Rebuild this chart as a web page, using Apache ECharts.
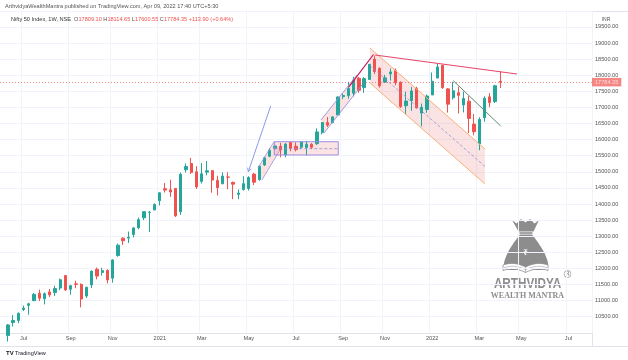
<!DOCTYPE html>
<html><head><meta charset="utf-8">
<script src="https://cdn.jsdelivr.net/npm/echarts@6/dist/echarts.min.js"></script>
<style>html,body{margin:0;padding:0;background:#fff}#c{width:628px;height:360px}</style>
</head><body><div id="c"></div>
<script>
// ---- data ----
const startMonday = [2020, 5, 8];   // first (empty) weekly slot: 2020-06-08
const weekSlots = 113;
const firstBarSlot = 1;             // first candle: week of 2020-06-15
const opens  = [9919,10319,10383,10723,10852,10999,11225,11057,11270,11248,11390,11777,11355,11521,11503,11140,11487,11974,11874,11937,11697,12399,12940,12940,13055,13264,13571,13741,13815,14104,14474,14439,14483,13759,15064,15257,14999,14702,14990,15035,14736,14628,14837,14669,14300,14449,14481,14928,14756,15211,15484,15725,15791,15525,15915,15793,15766,15754,15855,15874,16215,16530,16525,16765,17334,17364,17443,17906,17615,17867,18500,18215,17784,18040,18140,17780,17052,17209,17594,16824,16937,17387,17913,18309,17575,17301,17456,17076,17192,16481,15867,16680,17329,17182,17809.10];
const highs  = [10272,10553,10631,10847,10933,11240,11341,11256,11361,11460,11686,11794,11493,11618,11535,11428,11939,12025,12019,11974,12280,12770,12963,13145,13280,13579,13773,13777,14024,14367,14653,14754,14491,14978,15257,15431,15176,15274,15336,15052,14878,14984,14984,14697,14450,14864,14863,14967,15190,15469,15733,15835,15901,15893,15915,15915,15952,15962,15890,16350,16543,16701,16722,17340,17436,17792,17947,17943,17941,18350,18604,18242,18012,18210,18210,17806,17489,17639,17640,17118,17400,18082,18350,18321,17599,17794,17639,17490,17351,16800,16694,17344,17443,17703,18114.65];
const lows   = [9728,10194,10299,10676,10562,10991,10985,10882,11111,11145,11326,11303,11185,11383,10790,11081,11387,11661,11775,11535,11557,12362,12730,12790,12962,13214,13500,13131,13810,13954,14357,14222,13597,13662,14977,14935,14467,14635,14890,14350,14264,14615,14459,14151,14151,14416,14417,14591,14725,15181,15451,15678,15451,15450,15636,15632,15707,15513,15705,15834,16162,16395,16510,16764,17255,17269,17338,17452,17452,17864,18035,17613,17761,17836,17688,16985,16782,16891,16966,16410,16833,17383,17906,17576,16837,17244,16810,16843,16203,16133,15671,16555,17006,17135,17600.55];
const closes = [10244,10383,10607,10768,10901,11194,11073,11214,11178,11372,11647,11333,11464,11504,11050,11416,11914,11762,11930,11642,12263,12720,12859,12969,13258,13513,13760,13749,13982,14347,14433,14372,13634,14924,15163,14982,14529,14938,15031,14744,14507,14867,14834,14617,14341,14631,14823,14677,15175,15436,15670,15799,15683,15860,15722,15690,15924,15856,15763,16238,16529,16450,16705,17324,17369,17585,17853,17532,17895,18338,18114,17671,17917,18102,17765,17026,17196,17511,16985,17003,17354,17812,18255,17617,17101,17516,17374,17276,16658,16245,16630,17287,17153,17670,17784.35];
const tickDates  = ['2020-07-06','2020-09-07','2020-11-02','2021-01-04','2021-03-01','2021-05-03','2021-07-05','2021-09-06','2021-11-01','2022-01-03','2022-03-07','2022-05-02','2022-07-04'];
const tickLabels = ['Jul','Sep','Nov','2021','Mar','May','Jul','Sep','Nov','2022','Mar','May','Jul'];
const lastPrice = 17784.35;
const changeText = '+113.90 (+0.64%)';

// drawings: [weekSlot, price]
const arrowLine    = [[51.17,17044],[46.9,15004]];
const boxCorners   = [[51.86,15935],[64.07,15522]];
const boxMid       = [[51.86,15718],[64.07,15718]];
const rise1Upper   = [[48.75,15124],[51.8,15935]];
const rise1Lower   = [[49.5,14747],[52.94,15678]];
const rise2Upper   = [[60.77,16609],[67.64,18006]];
const rise2Lower   = [[61.34,16206],[68.6,17696]];
const peakLine     = [[66.1,17634],[70.79,18643]];
const resistLine   = [[71.08,18627],[98.18,18037]];
const fallUpper    = [[70.12,18842],[92.07,15709]];
const fallLower    = [[70.12,17758],[92.07,14622]];
const fallMid      = [[70.12,18300],[92.07,15166]];
const flagLine     = [[86.02,17830],[95.07,16423]];

// ---- build ----
const base = Date.UTC(startMonday[0], startMonday[1], startMonday[2]);
const cats = [];
for (let k = 0; k < weekSlots; k++) cats.push(new Date(base + k*7*864e5).toISOString().slice(0,10));
const candle = cats.map((d,k) => {
  const i = k - firstBarSlot;
  return (i >= 0 && i < opens.length) ? [opens[i], closes[i], lows[i], highs[i]] : '-';
});
const tickMap = {};
tickDates.forEach((d,i) => tickMap[d] = tickLabels[i]);
const isTick = (idx, val) => tickMap[val] !== undefined;

const FILL = 'rgba(239,83,80,0.16)';
const PURPLE = '#9c8fe0';
const fills = [
  {pts: [boxCorners[0], [boxCorners[1][0], boxCorners[0][1]], boxCorners[1], [boxCorners[0][0], boxCorners[1][1]]], fill: FILL},
  {pts: [rise1Upper[0], rise1Upper[1], rise1Lower[1], rise1Lower[0]], fill: FILL},
  {pts: [rise2Upper[0], rise2Upper[1], rise2Lower[1], rise2Lower[0]], fill: FILL},
  {pts: [fallUpper[0], fallUpper[1], fallLower[1], fallLower[0]], fill: FILL}
];
const lines = [
  {pts: [boxCorners[0], [boxCorners[1][0], boxCorners[0][1]], boxCorners[1], [boxCorners[0][0], boxCorners[1][1]], boxCorners[0]], stroke: PURPLE, w: 1},
  {pts: boxMid, stroke: '#8a8fd8', w: 0.8, dash: [3,2]},
  {pts: rise1Upper, stroke: PURPLE, w: 0.8},
  {pts: rise1Lower, stroke: PURPLE, w: 0.8},
  {pts: rise2Upper, stroke: PURPLE, w: 0.9},
  {pts: rise2Lower, stroke: PURPLE, w: 0.9},
  {pts: fallUpper, stroke: '#f7b27a', w: 1},
  {pts: fallLower, stroke: '#f7b27a', w: 1},
  {pts: fallMid, stroke: '#8a8fd8', w: 0.8, dash: [3,2]},
  {pts: peakLine, stroke: '#c2185b', w: 1.2},
  {pts: resistLine, stroke: '#e8466a', w: 1.2},
  {pts: flagLine, stroke: '#5e8a73', w: 1},
  {pts: arrowLine, stroke: '#8b9bf0', w: 1, arrow: true}
];

function shapeSeries(list, z, isFill) {
  return {
    type: 'custom', xAxisIndex: 1, yAxisIndex: 0, z: z, silent: true, clip: true,
    data: list.map((s,i) => [s.pts[0][0], s.pts[0][1], i]),
    encode: {x: 0, y: 1},
    renderItem: function (params, api) {
      const s = list[params.dataIndex];
      const p = s.pts.map(q => api.coord(q));
      if (isFill) return {type: 'polygon', shape: {points: p}, style: {fill: s.fill}};
      const children = [{type: 'polyline', shape: {points: p}, style: {stroke: s.stroke, lineWidth: s.w, lineDash: s.dash || null, fill: null}}];
      if (s.arrow) {
        const a = p[p.length-2], b = p[p.length-1];
        const ang = Math.atan2(b[1]-a[1], b[0]-a[0]);
        const L = 4;
        children.push({type: 'polyline', shape: {points: [
          [b[0]-L*Math.cos(ang-0.5), b[1]-L*Math.sin(ang-0.5)], b,
          [b[0]-L*Math.cos(ang+0.5), b[1]-L*Math.sin(ang+0.5)]]},
          style: {stroke: s.stroke, lineWidth: s.w, fill: null}});
      }
      return {type: 'group', children: children};
    }
  };
}

// logo geometry helpers (decorative, pixel space)
function cubic(p0,p1,p2,p3,n){const r=[];for(let j=1;j<=n;j++){const t=j/n,u=1-t;r.push([u*u*u*p0[0]+3*u*u*t*p1[0]+3*u*t*t*p2[0]+t*t*t*p3[0],u*u*u*p0[1]+3*u*u*t*p1[1]+3*u*t*t*p2[1]+t*t*t*p3[1]]);}return r;}
function quad(p0,p1,p2,n){const r=[];for(let j=1;j<=n;j++){const t=j/n,u=1-t;r.push([u*u*p0[0]+2*u*t*p1[0]+t*t*p2[0],u*u*p0[1]+2*u*t*p1[1]+t*t*p2[1]]);}return r;}
const bagBody = [[20,18.5],[32,18.5]]
  .concat(cubic([32,18.5],[38,26],[46,37],[48,47],10))
  .concat(cubic([48,47],[49,52],[46.5,54],[42,54],5))
  .concat([[10,54]])
  .concat(cubic([10,54],[5.5,54],[3,52],[4,47],5))
  .concat(cubic([4,47],[6,37],[14,26],[20,18.5],10));
const bookShape = [[3,49]].concat(quad([3,49],[14,45],[25.5,51],8)).concat(quad([25.5,51],[37,45],[48,49],8))
  .concat([[48,54.5]]).concat(quad([48,54.5],[37,50.5],[25.5,56.5],8)).concat(quad([25.5,56.5],[14,50.5],[3,54.5],8));
const bookPage = [[4,51.7]].concat(quad([4,51.7],[14,48],[25.5,53.7],8)).concat(quad([25.5,53.7],[37,48],[47,51.7],8));

const FONT = 'Liberation Sans';
const chart = echarts.init(document.getElementById('c'), null, {renderer: 'canvas'});
const LOGO = '#8d8d8d';
chart.setOption({
  animation: false,
  backgroundColor: '#fff',
  grid: {left: 0, right: 36, top: 10.8, bottom: 27.2},
  xAxis: [{
    type: 'category', data: cats, boundaryGap: true,
    axisLine: {show: true, lineStyle: {color: '#e0e3eb'}},
    axisTick: {show: false},
    axisLabel: {interval: isTick, formatter: v => tickMap[v] || '', fontSize: 5.6, color: '#555', margin: 3, fontFamily: FONT},
    splitLine: {show: true, interval: isTick, lineStyle: {color: '#f0f3fa', width: 1}}
  }, {
    type: 'value', min: -0.5, max: weekSlots - 0.5, show: false
  }],
  yAxis: [{
    type: 'value', position: 'right', min: 10000, max: 20000, interval: 500,
    axisLine: {show: false}, axisTick: {show: false},
    axisLabel: {formatter: v => v.toFixed(2), fontSize: 5.6, color: '#555', margin: 3, align: 'left', showMinLabel: false, showMaxLabel: false, fontFamily: FONT},
    splitLine: {show: true, lineStyle: {color: '#f0f3fa', width: 1}}
  }],
  series: [
    shapeSeries(fills, 1, true),
    {
      type: 'candlestick', name: 'Nifty 50', data: candle, z: 2,
      barWidth: 2.8,
      itemStyle: {color: '#26a69a', color0: '#ef5350', borderColor: '#26a69a', borderColor0: '#ef5350', borderWidth: 1},
      markLine: {
        silent: true, symbol: ['none','none'],
        data: [{yAxis: lastPrice}],
        lineStyle: {color: '#ef5350', type: [1,2], width: 1, opacity: 0.7},
        label: {position: 'end', distance: 0, formatter: lastPrice.toFixed(2), backgroundColor: '#ef5350', color: '#fff', fontSize: 5.6, padding: [1.5,3,1,3], fontFamily: FONT}
      }
    },
    shapeSeries(lines, 3, false)
  ],
  graphic: [
    {type: 'text', x: 5, y: 3, style: {text: 'ArthvidyaWealthMantra published on TradingView.com, Apr 09, 2022 17:40 UTC+5:30', fontSize: 5.6, fill: '#555', fontFamily: FONT}},
    {type: 'line', shape: {x1: 0, y1: 11.5, x2: 628, y2: 11.5}, style: {stroke: '#e0e3eb', lineWidth: 1}},
    {type: 'line', shape: {x1: 592.5, y1: 11.5, x2: 592.5, y2: 346.5}, style: {stroke: '#e0e3eb', lineWidth: 1}},
    {type: 'line', shape: {x1: 0, y1: 346.5, x2: 628, y2: 346.5}, style: {stroke: '#e0e3eb', lineWidth: 1}},
    {type: 'text', x: 11, y: 16.5, z: 10, style: {
      text: '{n|Nifty 50 Index, 1W, NSE}  {g|O}{r|' + opens[opens.length-1].toFixed(2) + '} {g|H}{r|' + highs[highs.length-1].toFixed(2) + '} {g|L}{r|' + lows[lows.length-1].toFixed(2) + '} {g|C}{r|' + closes[closes.length-1].toFixed(2) + '} {r|' + changeText + '}',
      fontFamily: FONT, fontSize: 5.6,
      rich: {n: {fill: '#333', fontSize: 5.6, fontFamily: FONT}, g: {fill: '#555', fontSize: 5.6, fontFamily: FONT}, r: {fill: '#ef5350', fontSize: 5.6, fontFamily: FONT}}
    }},
    {type: 'text', x: 606, y: 20, style: {text: 'INR', fontSize: 5, fill: '#555', align: 'center', verticalAlign: 'middle', fontFamily: FONT}},
    // logo
    {type: 'group', x: 500, y: 216, z: 0, children: [
      {type: 'polygon', shape: {points: [[12,4],[16.5,7.5],[21,3],[25.5,6.5],[30,3],[34.5,7.5],[39,4],[33.5,15.5],[18.5,15.5]]}, style: {fill: LOGO}},
      {type: 'rect', shape: {x: 19.5, y: 16, width: 13, height: 2}, style: {fill: '#a5a5a5'}},
      {type: 'polygon', shape: {points: bagBody}, style: {fill: LOGO}},
      {type: 'polygon', shape: {points: bookShape}, style: {fill: '#fff', stroke: LOGO, lineWidth: 0.8}},
      {type: 'polyline', shape: {points: bookPage}, style: {fill: null, stroke: LOGO, lineWidth: 0.5}},
      {type: 'line', shape: {x1: 25.5, y1: 51, x2: 25.5, y2: 56.5}, style: {stroke: LOGO, lineWidth: 0.6}},
      {type: 'text', x: 25.5, y: 37, style: {text: '₹', fontSize: 8, fontWeight: 'bold', fill: '#fff', align: 'center', verticalAlign: 'middle', fontFamily: 'Noto Sans'}},
      {type: 'text', x: 27.5, y: 67.5, scaleX: 0.78, style: {text: 'ARTHVIDYA', fontSize: 15, fontWeight: 'bold', fill: LOGO, align: 'center', verticalAlign: 'middle', fontFamily: FONT}},
      {type: 'text', x: 27.5, y: 79.5, style: {text: 'WEALTH MANTRA', fontSize: 8, fontWeight: 'bold', fill: LOGO, align: 'center', verticalAlign: 'middle', fontFamily: 'Liberation Serif'}},
      {type: 'text', x: 67.5, y: 59, style: {text: '®', fontSize: 10, fill: LOGO, align: 'center', verticalAlign: 'middle', fontFamily: 'DejaVu Sans'}}
    ]},
    // TradingView footer
    {type: 'text', x: 6, y: 350, style: {text: 'TV', fontSize: 6, fontWeight: 'bold', fill: '#131722', fontFamily: FONT}},
    {type: 'text', x: 15, y: 350.5, style: {text: 'TradingView', fontSize: 5.6, fill: '#131722', fontFamily: FONT}}
  ]
});
</script></body></html>
